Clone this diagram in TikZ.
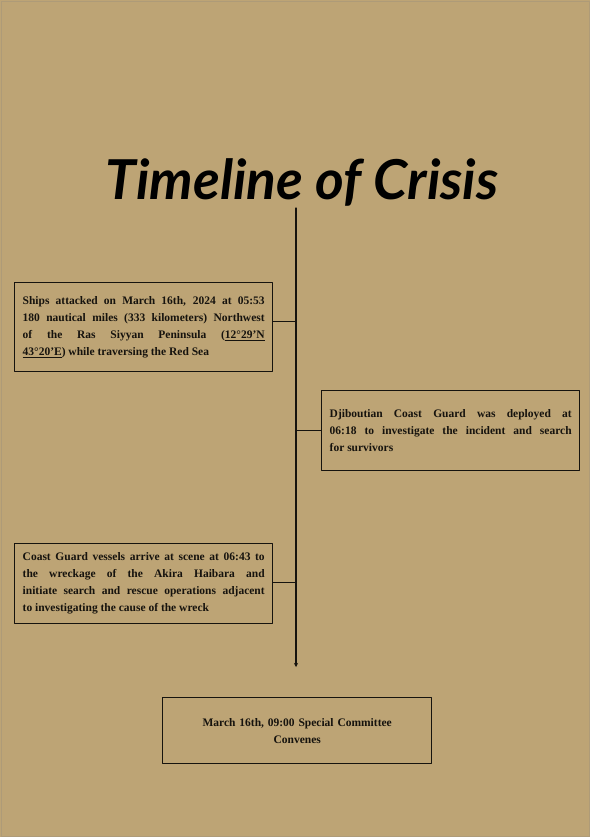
\documentclass[tikz,border=0pt]{standalone}
\usepackage{fontspec}
\setmainfont{Liberation Serif}
\newfontfamily\titlefont{Lato}
\usetikzlibrary{arrows.meta}
\definecolor{parch}{RGB}{189,164,117}
\definecolor{ink}{RGB}{22,19,14}

\begin{document}
\begin{tikzpicture}[x=1pt,y=-1pt,line cap=round,line join=round,
  event/.style={draw=ink,line width=1.4pt,inner xsep=8pt,inner ysep=0pt,text=ink,
    font=\fontsize{11.5}{17}\selectfont\bfseries,text width=242pt,align=justify},
  link/.style={draw=ink,line width=1.1pt}]
\fill[parch] (0,0) rectangle (590,837);
\draw[parch!75!gray,line width=0.8pt] (1,1) rectangle (589,836);
\useasboundingbox (0,0) rectangle (590,837);
\node[font=\titlefont\fontsize{55}{55}\selectfont\bfseries\itshape,text=black,anchor=base] (title) at (302,200) {Timeline of Crisis};
\coordinate (spinetop) at (296,208);
\coordinate (spineend) at (296,667);
\node[event,minimum height=89pt,anchor=north west] (attack) at (14,282) {Ships attacked on March 16th, 2024 at 05:53\linebreak 180 nautical miles (333 kilometers) Northwest\linebreak of the Ras Siyyan Peninsula (\underline{12°29'N}\linebreak \underline{43°20'E}) while traversing the Red Sea};
\node[event,minimum height=80pt,anchor=north west] (deploy) at (321,390) {Djiboutian Coast Guard was deployed at\linebreak 06:18 to investigate the incident and search\linebreak for survivors};
\node[event,minimum height=80pt,anchor=north west] (arrive) at (14,543) {Coast Guard vessels arrive at scene at 06:43 to\linebreak the wreckage of the Akira Haibara and\linebreak initiate search and rescue operations adjacent\linebreak to investigating the cause of the wreck};
\node[event,minimum height=66pt,text width=253pt,align=center,anchor=north west] (convene) at (162,697) {March 16th, 09:00 Special Committee\\Convenes};
\draw[link,-{Stealth[length=4pt,width=4pt]}] (spinetop) -- (spineend);
\draw[link] ([yshift=6pt]attack.east) -- ([yshift=6pt]attack.east -| spinetop);
\draw[link] (deploy.west) -- (deploy.west -| spinetop);
\draw[link] ([yshift=1pt]arrive.east) -- ([yshift=1pt]arrive.east -| spinetop);
\end{tikzpicture}
\end{document}
